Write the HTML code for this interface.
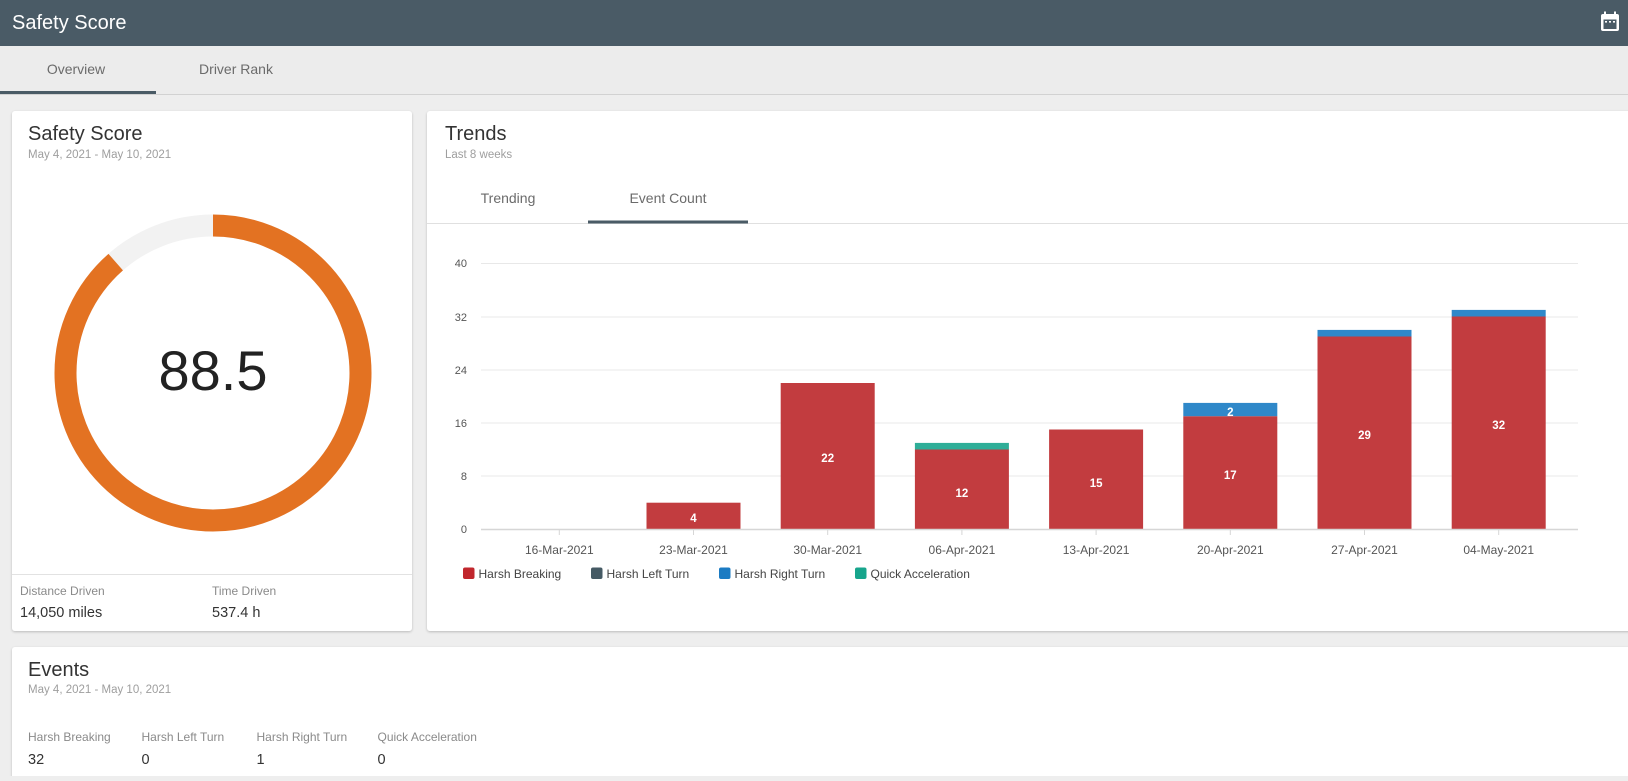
<!DOCTYPE html>
<html>
<head>
<meta charset="utf-8">
<style>
  html,body{margin:0;padding:0;background:#eeeeee;}
  body{width:1628px;height:776px;overflow:hidden;font-family:"Liberation Sans",sans-serif;}
  svg text{font-family:"Liberation Sans",sans-serif;}
</style>
</head>
<body>
<svg width="1628" height="776" viewBox="0 0 1628 776" xmlns="http://www.w3.org/2000/svg">
  <defs>
    <filter id="sh" x="-5%" y="-5%" width="110%" height="110%">
      <feDropShadow dx="0" dy="1" stdDeviation="1.2" flood-color="#000" flood-opacity="0.22"/>
    </filter>
  </defs>

  <!-- page bg -->
  <rect x="0" y="0" width="1628" height="776" fill="#eeeeee"/>

  <!-- header -->
  <rect x="0" y="0" width="1628" height="46" fill="#4a5b66"/>
  <text x="12" y="29" font-size="20" fill="#ffffff">Safety Score</text>
  <!-- calendar icon -->
  <g>
    <rect x="1601" y="14" width="18" height="17" rx="2" fill="#ffffff"/>
    <rect x="1603.5" y="19.5" width="13" height="9.5" fill="#4a5b66"/>
    <rect x="1605" y="21" width="2" height="1.6" fill="#ffffff"/>
    <rect x="1609" y="21" width="2" height="1.6" fill="#ffffff"/>
    <rect x="1613" y="21" width="2" height="1.6" fill="#ffffff"/>
    <rect x="1604" y="11.5" width="2" height="4" fill="#ffffff"/>
    <rect x="1614" y="11.5" width="2" height="4" fill="#ffffff"/>
  </g>

  <!-- tab bar -->
  <rect x="0" y="46" width="1628" height="48" fill="#ececec"/>
  <text x="76" y="74" font-size="14" fill="#6b6b6b" text-anchor="middle">Overview</text>
  <text x="236" y="74" font-size="14" fill="#6b6b6b" text-anchor="middle">Driver Rank</text>
  <line x1="0" y1="94.5" x2="1628" y2="94.5" stroke="#d2d2d2" stroke-width="1"/>
  <rect x="0" y="91" width="156" height="3" fill="#4a5b66"/>

  <!-- cards -->
  <rect x="12" y="111" width="400" height="520" rx="3" fill="#ffffff" filter="url(#sh)"/>
  <rect x="427" y="111" width="1215" height="520" rx="3" fill="#ffffff" filter="url(#sh)"/>
  <rect x="12" y="647" width="1630" height="140" rx="3" fill="#ffffff" filter="url(#sh)"/>

  <!-- card 1: Safety Score -->
  <text x="28" y="140" font-size="20" fill="#333333">Safety Score</text>
  <text x="28" y="158" font-size="11.5" fill="#9e9e9e">May 4, 2021 - May 10, 2021</text>

  <circle cx="213" cy="373" r="147.5" fill="none" stroke="#f2f2f2" stroke-width="22"/>
  <circle cx="213" cy="373" r="147.5" fill="none" stroke="#e37222" stroke-width="22"
          stroke-dasharray="820.2 1000" transform="rotate(-90 213 373)"/>
  <text x="213" y="390" font-size="56" fill="#222222" text-anchor="middle">88.5</text>

  <line x1="12" y1="574.5" x2="412" y2="574.5" stroke="#e2e2e2" stroke-width="1"/>
  <text x="20" y="595" font-size="12" fill="#8a8a8a">Distance Driven</text>
  <text x="20" y="617" font-size="14.5" fill="#333333">14,050 miles</text>
  <text x="212" y="595" font-size="12" fill="#8a8a8a">Time Driven</text>
  <text x="212" y="617" font-size="14.5" fill="#333333">537.4 h</text>

  <!-- card 2: Trends -->
  <text x="445" y="140" font-size="20" fill="#333333">Trends</text>
  <text x="445" y="158" font-size="11.5" fill="#9e9e9e">Last 8 weeks</text>
  <text x="508" y="203" font-size="14" fill="#6b6b6b" text-anchor="middle">Trending</text>
  <text x="668" y="203" font-size="14" fill="#6b6b6b" text-anchor="middle">Event Count</text>
  <line x1="427" y1="223.5" x2="1628" y2="223.5" stroke="#e0e0e0" stroke-width="1"/>
  <rect x="588" y="220.5" width="160" height="3" fill="#4a5b66"/>

  <!-- gridlines -->
  <g stroke="#e8e8e8" stroke-width="1">
    <line x1="481" y1="263.5" x2="1578" y2="263.5"/>
    <line x1="481" y1="317" x2="1578" y2="317"/>
    <line x1="481" y1="370" x2="1578" y2="370"/>
    <line x1="481" y1="423" x2="1578" y2="423"/>
    <line x1="481" y1="476" x2="1578" y2="476"/>
  </g>
  <!-- y labels -->
  <g font-size="11" fill="#555555" text-anchor="end">
    <text x="467" y="267">40</text>
    <text x="467" y="321">32</text>
    <text x="467" y="374">24</text>
    <text x="467" y="427">16</text>
    <text x="467" y="480">8</text>
    <text x="467" y="533">0</text>
  </g>

  <!-- bars -->
  <g>
    <rect x="646.5" y="502.7" width="94" height="26.6" fill="#c23c3f"/>
    <rect x="780.7" y="383" width="94" height="146.3" fill="#c23c3f"/>
    <rect x="914.9" y="449.5" width="94" height="79.8" fill="#c23c3f"/>
    <rect x="914.9" y="442.9" width="94" height="6.6" fill="#2fae98"/>
    <rect x="1049.1" y="429.5" width="94" height="99.8" fill="#c23c3f"/>
    <rect x="1183.3" y="416.2" width="94" height="113.1" fill="#c23c3f"/>
    <rect x="1183.3" y="402.9" width="94" height="13.3" fill="#2f88c9"/>
    <rect x="1317.5" y="336.5" width="94" height="192.8" fill="#c23c3f"/>
    <rect x="1317.5" y="329.9" width="94" height="6.6" fill="#2f88c9"/>
    <rect x="1451.7" y="316.5" width="94" height="212.8" fill="#c23c3f"/>
    <rect x="1451.7" y="309.9" width="94" height="6.6" fill="#2f88c9"/>
  </g>

  <!-- baseline -->
  <line x1="481" y1="529.5" x2="1578" y2="529.5" stroke="#d6d6d6" stroke-width="1.5"/>
  <g stroke="#d6d6d6" stroke-width="1">
    <line x1="559.3" y1="529" x2="559.3" y2="535"/>
    <line x1="693.5" y1="529" x2="693.5" y2="535"/>
    <line x1="827.7" y1="529" x2="827.7" y2="535"/>
    <line x1="961.9" y1="529" x2="961.9" y2="535"/>
    <line x1="1096.1" y1="529" x2="1096.1" y2="535"/>
    <line x1="1230.3" y1="529" x2="1230.3" y2="535"/>
    <line x1="1364.5" y1="529" x2="1364.5" y2="535"/>
    <line x1="1498.7" y1="529" x2="1498.7" y2="535"/>
  </g>

  <!-- bar value labels -->
  <g font-size="11.5" font-weight="bold" fill="#ffffff" text-anchor="middle">
    <text x="693.5" y="522">4</text>
    <text x="827.7" y="462">22</text>
    <text x="961.9" y="497">12</text>
    <text x="1096.1" y="487">15</text>
    <text x="1230.3" y="479">17</text>
    <text x="1230.3" y="416">2</text>
    <text x="1364.5" y="439">29</text>
    <text x="1498.7" y="429">32</text>
  </g>

  <!-- x labels -->
  <g font-size="12" fill="#555555" text-anchor="middle">
    <text x="559.3" y="554">16-Mar-2021</text>
    <text x="693.5" y="554">23-Mar-2021</text>
    <text x="827.7" y="554">30-Mar-2021</text>
    <text x="961.9" y="554">06-Apr-2021</text>
    <text x="1096.1" y="554">13-Apr-2021</text>
    <text x="1230.3" y="554">20-Apr-2021</text>
    <text x="1364.5" y="554">27-Apr-2021</text>
    <text x="1498.7" y="554">04-May-2021</text>
  </g>

  <!-- legend -->
  <g font-size="12" fill="#444444">
    <rect x="463" y="567.5" width="11.5" height="11.5" rx="2" fill="#c1272d"/>
    <text x="478.5" y="578">Harsh Breaking</text>
    <rect x="591" y="567.5" width="11.5" height="11.5" rx="2" fill="#455a64"/>
    <text x="606.5" y="578">Harsh Left Turn</text>
    <rect x="719" y="567.5" width="11.5" height="11.5" rx="2" fill="#1b7bc3"/>
    <text x="734.5" y="578">Harsh Right Turn</text>
    <rect x="855" y="567.5" width="11.5" height="11.5" rx="2" fill="#17a58c"/>
    <text x="870.5" y="578">Quick Acceleration</text>
  </g>

  <!-- card 3: Events -->
  <text x="28" y="676" font-size="20" fill="#333333">Events</text>
  <text x="28" y="693" font-size="11.5" fill="#9e9e9e">May 4, 2021 - May 10, 2021</text>
  <g font-size="12" fill="#8a8a8a">
    <text x="28" y="741">Harsh Breaking</text>
    <text x="141.5" y="741">Harsh Left Turn</text>
    <text x="256.5" y="741">Harsh Right Turn</text>
    <text x="377.5" y="741">Quick Acceleration</text>
  </g>
  <g font-size="14.5" fill="#333333">
    <text x="28" y="764">32</text>
    <text x="141.5" y="764">0</text>
    <text x="256.5" y="764">1</text>
    <text x="377.5" y="764">0</text>
  </g>
</svg>
</body>
</html>
